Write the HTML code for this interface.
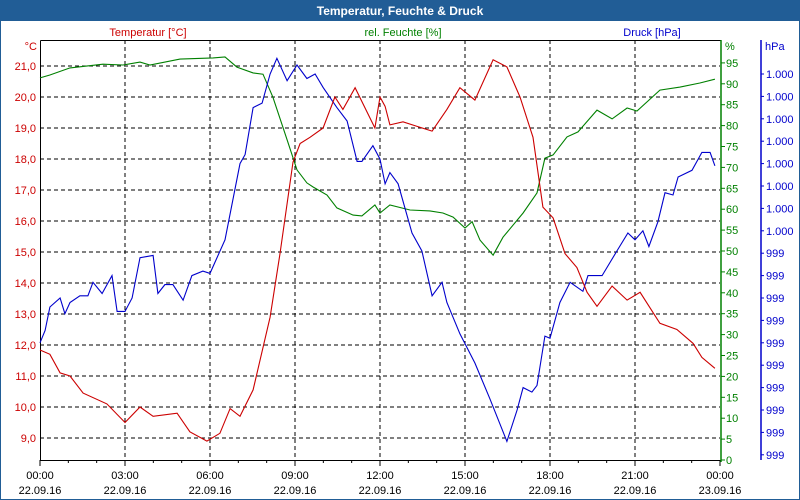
<!DOCTYPE html>
<html><head><meta charset="utf-8"><style>
html,body{margin:0;padding:0;background:#fff}
svg{display:block;font-family:"Liberation Sans",sans-serif}
</style></head><body>
<svg id="chart" width="800" height="500" viewBox="0 0 800 500" xmlns="http://www.w3.org/2000/svg">
<rect x="0.5" y="0.5" width="799" height="499" fill="#fff" stroke="#215d96"/>
<rect x="0" y="0" width="800" height="21" fill="#215d96"/>
<text x="400" y="15" text-anchor="middle" fill="#fff" font-size="12" font-weight="bold">Temperatur, Feuchte &amp; Druck</text>
<text x="148" y="36" text-anchor="middle" fill="#cc0000" font-size="11">Temperatur [°C]</text>
<text x="403" y="36" text-anchor="middle" fill="#008000" font-size="11">rel. Feuchte [%]</text>
<text x="652" y="36" text-anchor="middle" fill="#0000cc" font-size="11">Druck [hPa]</text>
<text x="37" y="50" text-anchor="end" fill="#cc0000" font-size="11">°C</text>
<text x="725" y="50" fill="#008000" font-size="11">%</text>
<text x="765" y="50" fill="#0000cc" font-size="11">hPa</text>
<g id="grid"></g><g id="axes"></g><g id="series"></g>
</svg>
<script>
const tempTicks=[21,20,19,18,17,16,15,14,13,12,11,10,9];
const humTicks=[0,5,10,15,20,25,30,35,40,45,50,55,60,65,70,75,80,85,90,95];
const presTicks=[1000.2,1000.1,1000.0,999.9,999.8,999.7,999.6,999.5,999.4,999.3,999.2,999.1,999.0,998.9,998.8,998.7,998.6,998.5];
const timeTicks=[0,3,6,9,12,15,18,21,24];
const timeLabels=["00:00","03:00","06:00","09:00","12:00","15:00","18:00","21:00","00:00"];
const dateLabels=["22.09.16","22.09.16","22.09.16","22.09.16","22.09.16","22.09.16","22.09.16","22.09.16","23.09.16"];
const tempTimes=[0,.35,.71,1.06,1.52,2.36,3,3.53,3.99,4.84,5.29,5.89,6.35,6.71,7.06,7.52,8.12,8.47,8.93,9.18,9.53,9.99,10.41,10.69,11.12,11.82,12,12.18,12.35,12.81,13.31,13.84,14.36,14.82,15.35,15.99,16.48,16.94,17.4,17.75,18.11,18.53,18.95,19.31,19.66,20.19,20.72,21.18,21.88,22.48,23.05,23.36,23.82];
const tempValues=[11.84,11.7,11.1,11.0,10.45,10.1,9.5,10.0,9.7,9.8,9.2,8.9,9.15,9.95,9.7,10.55,12.9,14.95,17.9,18.5,18.7,19.0,20.0,19.6,20.3,19.0,20.0,19.7,19.1,19.2,19.05,18.9,19.6,20.3,19.9,21.2,20.97,20.0,18.7,16.45,16.1,14.95,14.5,13.7,13.25,13.9,13.45,13.7,12.7,12.5,12.05,11.6,11.25];
const humTimes=[0,.35,1.06,2.22,2.93,3.53,3.88,4.94,6.11,6.53,6.95,7.52,7.87,8.22,8.72,9.07,9.42,9.64,10.13,10.48,11.05,11.36,11.82,12,12.35,13.06,13.76,14.22,14.58,15,15.25,15.53,15.99,16.34,17.05,17.54,17.82,18.11,18.6,18.99,19.66,20.19,20.72,21.07,21.88,22.59,23.29,23.82];
const humValues=[91.4,92.1,93.8,94.7,94.5,95.2,94.5,95.9,96.2,96.4,94,92.6,92.3,86.8,76.6,69.4,66.3,65.3,63.4,60.3,58.6,58.4,61,59.1,61,59.8,59.6,59.1,58.1,55.5,57,52.6,49,53.3,59.1,63.9,72.2,73,77.3,78.5,83.7,81.6,84.2,83.5,88.5,89.2,90.2,91.1];
const presTimes=[0,.18,.35,.71,.88,1.06,1.41,1.69,1.87,2.19,2.54,2.72,3,3.25,3.53,3.99,4.16,4.41,4.69,5.05,5.36,5.75,6,6.53,7.06,7.24,7.52,7.84,8.12,8.36,8.72,9.07,9.42,9.71,9.99,10.48,10.84,11.19,11.36,11.75,12,12.18,12.35,12.64,13.13,13.48,13.84,14.19,14.36,14.82,15.35,15.88,16.48,16.84,17.05,17.36,17.54,17.82,18,18.35,18.71,19.16,19.34,19.84,20.36,20.75,21,21.28,21.49,21.81,22.06,22.34,22.52,23.01,23.36,23.65,23.82];
const presValues=[999.0,999.055,999.16,999.2,999.13,999.18,999.21,999.21,999.27,999.22,999.3,999.14,999.14,999.2,999.38,999.39,999.22,999.26,999.26,999.19,999.3,999.32,999.31,999.46,999.8,999.84,1000.05,1000.07,1000.2,1000.27,1000.17,1000.24,1000.18,1000.2,1000.14,1000.05,999.99,999.81,999.81,999.88,999.82,999.71,999.76,999.71,999.49,999.41,999.21,999.27,999.18,999.04,998.91,998.75,998.56,998.7,998.8,998.78,998.81,999.03,999.02,999.18,999.27,999.23,999.3,999.3,999.41,999.49,999.46,999.5,999.43,999.54,999.67,999.66,999.74,999.77,999.85,999.85,999.79];

const NS="http://www.w3.org/2000/svg";
const X=t=>40+t*680/24;
const YT=v=>66+(21-v)*31;
const YH=v=>460-v*4.18;
const YP=v=>74+(1000.2-v)*224;
function mk(tag,attrs,parent){const e=document.createElementNS(NS,tag);for(const k in attrs)e.setAttribute(k,attrs[k]);parent.appendChild(e);return e;}
const grid=document.getElementById('grid'),axes=document.getElementById('axes'),series=document.getElementById('series');

tempTicks.forEach(v=>{
  const l=mk('line',{x1:40,x2:720,y1:YT(v),y2:YT(v),stroke:'#000','stroke-dasharray':'4,3'},grid);
  
  
  const t=mk('text',{x:36,y:YT(v)+4,'text-anchor':'end',fill:'#cc0000','font-size':11},axes);
  t.textContent=v.toFixed(1).replace('.',',');
  
  
});
timeTicks.forEach((h,i)=>{
  if(h>0&&h<24){const l=mk('line',{x1:X(h),x2:X(h),y1:40,y2:460,stroke:'#000','stroke-dasharray':'4,3'},grid);
  
  }
  const t=mk('text',{x:X(h),y:479,'text-anchor':'middle',fill:'#000','font-size':11},axes);
  t.textContent=timeLabels[i];
  
  
  const d=mk('text',{x:X(h),y:494,'text-anchor':'middle',fill:'#000','font-size':11},axes);
  d.textContent=dateLabels[i];
  
  
});
for(let h=0;h<=24;h++){const tk=mk('line',{x1:X(h),x2:X(h),y1:460,y2:h%3?463:466,stroke:'#000'},axes);
  
  }
const ax=mk('path',{d:'M40.5,40.5H720.5M40.5,40.5V460.5H720',fill:'none',stroke:'#000'},axes);


const ga=mk('line',{x1:721,x2:721,y1:40,y2:462,stroke:'#008000','stroke-width':1.5},axes);


humTicks.forEach(v=>{
  const tk=mk('line',{x1:721,x2:725,y1:YH(v),y2:YH(v),stroke:'#008000'},axes);
  
  
  const t=mk('text',{x:726,y:YH(v)+4,fill:'#008000','font-size':11},axes);
  t.textContent=v;
  
  
});
const pa=mk('line',{x1:761,x2:761,y1:40,y2:460,stroke:'#0000cc','stroke-width':1.5},axes);


presTicks.forEach(v=>{
  const tk=mk('line',{x1:761,x2:764,y1:YP(v),y2:YP(v),stroke:'#0000cc'},axes);
  
  
  const t=mk('text',{x:766,y:YP(v)+4,fill:'#0000cc','font-size':11},axes);
  t.textContent=Math.round(v)>=1000?'1.000':String(Math.round(v));
  
  
});
function line(ts,vs,Y,color,name){
  const d=ts.map((t,i)=>(i?'L':'M')+X(t).toFixed(1)+','+Y(vs[i]).toFixed(1)).join('');
  const p=mk('path',{d:d,fill:'none',stroke:color,'stroke-width':1.1},series);
  
  
}
line(humTimes,humValues,YH,'#008000','humidity-line');
line(presTimes,presValues,YP,'#0000cc','pressure-line');
line(tempTimes,tempValues,YT,'#cc0000','temperature-line');
</script>
</body></html>
